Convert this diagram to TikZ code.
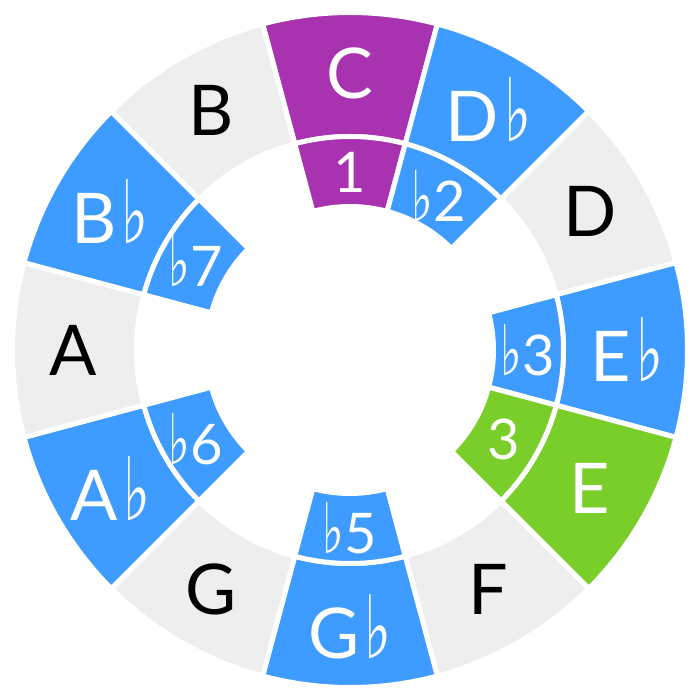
\documentclass[tikz,border=0pt]{standalone}
\usepackage{fontspec}
\setmainfont{Lato}
\newfontfamily\symfont{DejaVu Sans}
\definecolor{cpurple}{RGB}{168,50,176}
\definecolor{cblue}{RGB}{62,155,255}
\definecolor{cgreen}{RGB}{122,206,42}
\definecolor{cgray}{RGB}{238,238,238}
\newcommand\flt{\hspace{0.08em}\scalebox{0.82}[1.25]{\symfont ♭}}
\newcommand\iflt{\scalebox{0.82}[1.25]{\symfont ♭}}
\newcommand\annsec[4]{%
  \path[seg,fill=#1] ({#2-15}:#3) arc[start angle={#2-15}, end angle={#2+15}, radius=#3]
    -- ({#2+15}:#4) arc[start angle={#2+15}, end angle={#2-15}, radius=#4] -- cycle;}
\begin{document}
\begin{tikzpicture}[x=1pt,y=1pt,
  seg/.style={draw=white,line width=5pt,line join=miter},
  outlab/.style={inner sep=0pt,font=\fontsize{70}{72}\selectfont},
  inlab/.style={inner sep=0pt,font=\fontsize{56}{58}\selectfont}]
\useasboundingbox (-350,-350) rectangle (350,350);
% outer ring
\foreach \a/\c in {90/cpurple,60/cblue,30/cgray,0/cblue,-30/cgreen,-60/cgray,-90/cblue,-120/cgray,-150/cblue,180/cgray,150/cblue,120/cgray}{
  \annsec{\c}{\a}{337.5}{213.5}
}
% inner ring
\foreach \a/\c in {90/cpurple,60/cblue,0/cblue,-30/cgreen,-90/cblue,-150/cblue,150/cblue}{
  \annsec{\c}{\a}{213.5}{143.5}
}
% outer labels
\node[outlab,text=white] (nC) at (90:277) {C};
\node[outlab,text=white] (nDb) at (60:277) {D\flt};
\node[outlab,text=black] (nD) at (30:277) {D};
\node[outlab,text=white] (nEb) at (0:277) {E\flt};
\node[outlab,text=white] (nE) at (-30:277) {E};
\node[outlab,text=black] (nF) at (-60:277) {F};
\node[outlab,text=white] (nGb) at (-90:277) {G\flt};
\node[outlab,text=black] (nG) at (-120:277) {G};
\node[outlab,text=white] (nAb) at (-150:277) {A\flt};
\node[outlab,text=black] (nA) at (180:277) {A};
\node[outlab,text=white] (nBb) at (150:277) {B\flt};
\node[outlab,text=black] (nB) at (120:277) {B};
% inner labels
\node[inlab,text=white] (i1) at (90:178) {1};
\node[inlab,text=white] (i2) at (60:178) {\iflt2};
\node[inlab,text=white] (i3b) at (0:178) {\iflt3};
\node[inlab,text=white] (i3) at (-30:178) {3};
\node[inlab,text=white] (i5) at (-90:178) {\iflt5};
\node[inlab,text=white] (i6) at (-150:178) {\iflt6};
\node[inlab,text=white] (i7) at (150:178) {\iflt7};
\end{tikzpicture}
\end{document}
